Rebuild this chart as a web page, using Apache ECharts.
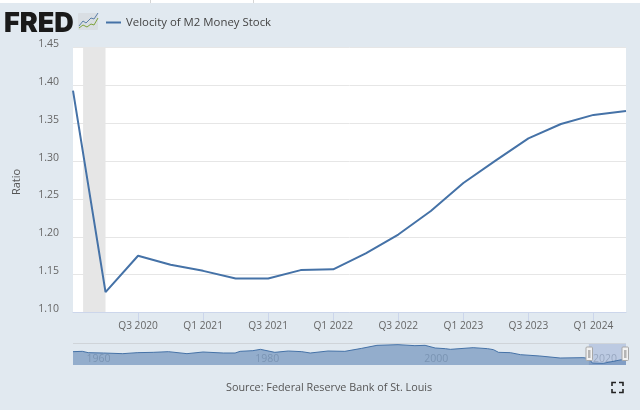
<!DOCTYPE html>
<html><head><meta charset="utf-8">
<style>html,body{margin:0;padding:0;background:#fff}#c{width:640px;height:415px}</style>
<script src="https://cdn.jsdelivr.net/npm/echarts@6/dist/echarts.min.js"></script>
</head><body><div id="c"></div>
<script>
const seriesName = 'Velocity of M2 Money Stock';
const quarters = ['Q1 2020','Q2 2020','Q3 2020','Q4 2020','Q1 2021','Q2 2021','Q3 2021','Q4 2021','Q1 2022','Q2 2022','Q3 2022','Q4 2022','Q1 2023','Q2 2023','Q3 2023','Q4 2023','Q1 2024','Q2 2024'];
const velocity = [1.393,1.127,1.175,1.163,1.155,1.145,1.145,1.156,1.157,1.178,1.203,1.234,1.271,1.301,1.330,1.349,1.361,1.366];
const labelledQuarters = [2,4,6,8,10,12,14,16];
const recession = [0.31,1];
const navYears = [1959,1960.1,1960.8,1962.6,1964.9,1966.6,1968.5,1970.3,1972.5,1974.4,1976.8,1978.2,1978.8,1980.3,1981.2,1982.9,1984.5,1986.1,1987.1,1989.2,1991.2,1993.2,1995,1997.5,1999.5,2000.7,2001.9,2003.1,2003.7,2006.4,2008.1,2008.8,2009.4,2010.8,2012,2014.3,2016.7,2019.4,2020.1,2020.5,2021.8,2024,2024.5];
const navValues = [1.80,1.82,1.74,1.72,1.68,1.74,1.76,1.80,1.68,1.78,1.72,1.72,1.82,1.86,1.94,1.76,1.84,1.80,1.72,1.84,1.82,2.00,2.18,2.22,2.16,2.18,2.02,1.98,1.94,2.04,1.98,1.92,1.76,1.74,1.62,1.54,1.42,1.44,1.40,1.12,1.10,1.32,1.37];
const navTicks = [1960,1980,2000,2020];
const selection = [2020.1,2024.5];
const source = 'Source: Federal Reserve Bank of St. Louis';
const FONT = '"Open Sans", sans-serif';

const chart = echarts.init(document.getElementById('c'), null, {renderer:'canvas'});
chart.setOption({
  animation:false,
  textStyle:{fontFamily:FONT},
  legend:{
    data:[seriesName], left:101, top:12, icon:'rect', itemWidth:15, itemHeight:2, itemGap:5,
    textStyle:{fontFamily:FONT,fontSize:11.4,color:'#444'}
  },
  title:{
    text:source, left:226, top:381, padding:0,
    textStyle:{fontFamily:FONT,fontSize:10.8,fontWeight:'normal',color:'#555',lineHeight:14}
  },
  grid:[
    {left:73,right:14,top:47.5,height:265,show:true,backgroundColor:'#fff',borderWidth:0},
    {left:73,right:14,top:343,height:22}
  ],
  xAxis:[
    {gridIndex:0,type:'value',min:0,max:17,interval:1,
     axisLine:{show:true,lineStyle:{color:'#ccd6eb',width:1}},
     axisTick:{show:true,length:9,customValues:labelledQuarters,lineStyle:{color:'#ccd6eb'}},
     axisLabel:{customValues:labelledQuarters,margin:9,fontSize:10.2,color:'#666',formatter:v=>quarters[v]||''},
     splitLine:{show:false}},
    {gridIndex:1,type:'value',min:1959,max:2024.5,
     axisLine:{show:false},
     axisTick:{show:false},
     axisLabel:{customValues:navTicks,inside:true,margin:0,fontSize:10.5,color:'rgba(110,120,130,0.45)',align:'left',padding:[0,0,0,5],formatter:v=>String(v)},
     splitLine:{show:false}}
  ],
  yAxis:[
    {gridIndex:0,type:'value',min:1.10,max:1.45,interval:0.05,
     name:'Ratio',nameLocation:'middle',nameGap:51,nameRotate:90,
     nameTextStyle:{fontFamily:FONT,fontSize:11,color:'#555',padding:[0,4,0,0]},
     axisLine:{show:false},axisTick:{show:false},
     axisLabel:{margin:14,fontSize:10.5,color:'#666',verticalAlign:'bottom',lineHeight:7,formatter:v=>v.toFixed(2)},
     splitLine:{show:true,lineStyle:{color:'#e6e6e6',width:1}}},
    {gridIndex:1,type:'value',min:1.0,max:2.32,
     axisLine:{show:false},axisTick:{show:false},axisLabel:{show:false},splitLine:{show:false}}
  ],
  series:[
    {name:seriesName,type:'line',xAxisIndex:0,yAxisIndex:0,
     data:velocity.map((v,i)=>[i,v]),showSymbol:false,symbol:'none',
     lineStyle:{color:'#4572a7',width:2},itemStyle:{color:'#4572a7'},
     markArea:{silent:true,itemStyle:{color:'#e6e6e6'},z:0,data:[[{xAxis:recession[0]},{xAxis:recession[1]}]]},z:3},
    {name:'navigator',type:'line',xAxisIndex:1,yAxisIndex:1,
     data:navYears.map((y,i)=>[y,navValues[i]]),showSymbol:false,symbol:'none',
     lineStyle:{color:'#4572a7',width:1},
     areaStyle:{color:'#4572a7',opacity:0.5},
     markArea:{silent:true,itemStyle:{color:'rgba(102,133,194,0.3)'},data:[[{xAxis:selection[0]},{xAxis:selection[1]}]]},z:3}
  ],
  graphic:[
    {type:'rect',z:-10,silent:true,shape:{x:0,y:3,width:640,height:407},style:{fill:'#e1e9f0'}},
    {type:'rect',z:-9,silent:true,shape:{x:150,y:0,width:1,height:3},style:{fill:'#d5d5d5'}},
    {type:'rect',z:-9,silent:true,shape:{x:253,y:0,width:1,height:3},style:{fill:'#d5d5d5'}},
    {type:'text',z:10,style:{x:4,y:10,text:'FRED',fontFamily:'Inter',fontWeight:900,fontSize:27,fill:'#1a1a1a'}},
    {type:'rect',z:10,shape:{x:78,y:13,width:20,height:17,r:1},style:{fill:'#d9dee3'}},
    {type:'polyline',z:11,shape:{points:[[79,26],[83,21],[86,23],[91,18],[94,19],[98,13]]},style:{stroke:'#5b7fa8',lineWidth:1,fill:null}},
    {type:'polyline',z:11,shape:{points:[[79,28],[83,25],[87,27],[91,24],[94,25],[98,18]]},style:{stroke:'#7ea33c',lineWidth:1,fill:null}},
    {type:'rect',z:9,shape:{x:73,y:343,width:553,height:1},style:{fill:'#cfd4d9'}},
    {type:'rect',z:12,shape:{x:586,y:347,width:6.5,height:13.5,r:1},style:{fill:'#f2f2f2',stroke:'#a8a8a8',lineWidth:1}},
    {type:'rect',z:13,shape:{x:588,y:350,width:2.5,height:8},style:{fill:'#b5b5b5'}},
    {type:'rect',z:12,shape:{x:622,y:347,width:6.5,height:13.5,r:1},style:{fill:'#f2f2f2',stroke:'#a8a8a8',lineWidth:1}},
    {type:'rect',z:13,shape:{x:624,y:350,width:2.5,height:8},style:{fill:'#b5b5b5'}},
    {type:'polyline',z:12,shape:{points:[[612,386],[612,382.5],[616,382.5]]},style:{stroke:'#222',lineWidth:1.6,fill:null}},
    {type:'polyline',z:12,shape:{points:[[619,382.5],[623,382.5],[623,386]]},style:{stroke:'#222',lineWidth:1.6,fill:null}},
    {type:'polyline',z:12,shape:{points:[[612,389],[612,392.5],[616,392.5]]},style:{stroke:'#222',lineWidth:1.6,fill:null}},
    {type:'polyline',z:12,shape:{points:[[619,392.5],[623,392.5],[623,389]]},style:{stroke:'#222',lineWidth:1.6,fill:null}}
  ]
});
</script></body></html>
